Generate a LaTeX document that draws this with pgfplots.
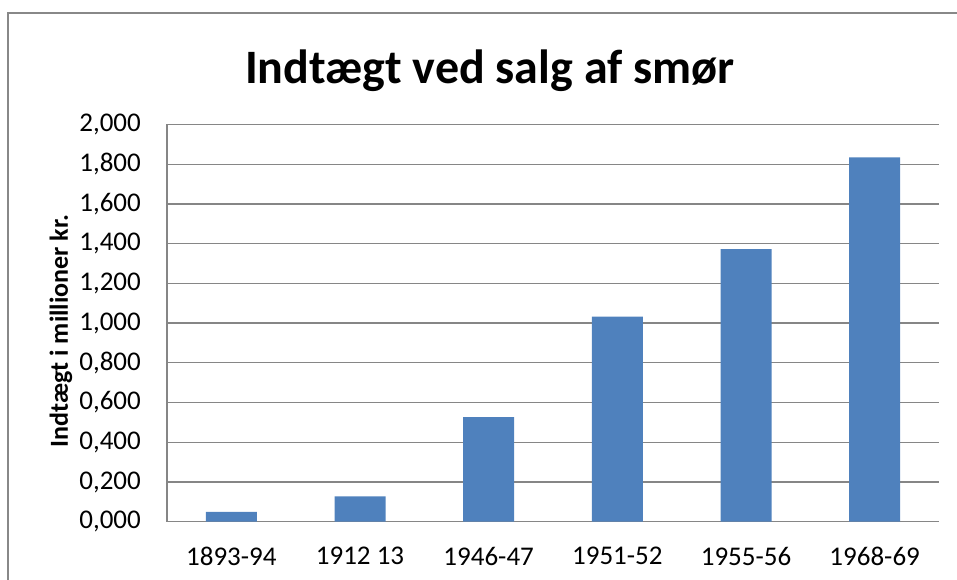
\documentclass[border=0pt]{standalone}
\usepackage{fontspec}
\setmainfont{Carlito}
\usepackage{pgfplots}
\pgfplotsset{compat=1.18}
\definecolor{barblue}{HTML}{4F81BD}
\definecolor{gridgray}{HTML}{868686}
\definecolor{framegray}{HTML}{888888}
\begin{document}
\begin{tikzpicture}[x=1pt,y=1pt]
\useasboundingbox (0,0) rectangle (957,580);
\draw[framegray, line width=2pt] (7.5,0) -- (7.5,566.7) -- (957,566.7);
\begin{axis}[
  at={(167pt,58.3pt)}, anchor=south west,
  scale only axis, width=772pt, height=397.2pt,
  ybar, bar width=51pt,
  xmin=-0.5, xmax=5.5, ymin=0, ymax=2,
  xtick=data,
  xticklabels={1893-94,1912 13,1946-47,1951-52,1955-56,1968-69},
  ytick={0,0.2,0.4,0.6,0.8,1,1.2,1.4,1.6,1.8,2},
  axis x line*=bottom, axis y line*=left,
  axis line style={gridgray, line width=1.2pt, -},
  ymajorgrids, grid style={gridgray, line width=1.2pt},
  major tick length=0pt,
  tick label style={font=\fontsize{27}{32}\selectfont, text=black, inner sep=0pt},
  yticklabel style={xshift=-26pt,
    /pgf/number format/.cd, fixed, fixed zerofill, precision=3, use comma, assume math mode=true},
  xticklabel style={yshift=-25pt},
  ylabel={Indtægt i millioner kr.},
  every axis y label/.style={at={(axis description cs:-0.1373,0.48)}, rotate=90, anchor=center,
    font=\fontsize{26}{30}\selectfont\bfseries},
  title={Indtægt ved salg af smør},
  title style={at={(axis description cs:0.4184,1.089)}, anchor=base,
    font=\fontsize{48}{56}\selectfont\bfseries},
]
\addplot[fill=barblue, draw=none] coordinates {
  (0,0.050) (1,0.128) (2,0.527) (3,1.032) (4,1.373) (5,1.835)
};
\end{axis}
\end{tikzpicture}
\end{document}
